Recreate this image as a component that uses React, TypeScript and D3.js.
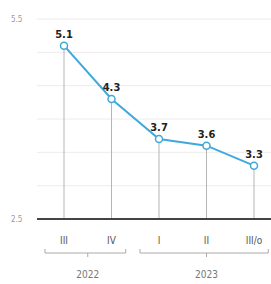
import React, { useEffect, useRef } from "react";
import * as d3 from "d3";

const quarters = ["III", "IV", "I", "II", "III/o"];
const values = [5.1, 4.3, 3.7, 3.6, 3.3];
const yearGroups = [
  { year: "2022", from: 0, to: 1 },
  { year: "2023", from: 2, to: 4 },
];
const yTicks = [2.5, 3, 3.5, 4, 4.5, 5, 5.5];
const yLabels = [2.5, 5.5];

export default function App() {
  const svgRef = useRef<SVGSVGElement>(null);

  useEffect(() => {
    const width = 271;
    const height = 284;
    const font = "'DejaVu Sans', sans-serif";

    const svg = d3.select(svgRef.current)
      .attr("width", width)
      .attr("height", height)
      .style("display", "block")
      .style("background", "#fff")
      .style("font-stretch", "condensed");
    svg.selectAll("*").remove();

    const x = d3.scalePoint<number>()
      .domain(d3.range(quarters.length))
      .range([64, 254]);
    const y = d3.scaleLinear().domain([2.5, 5.5]).range([219, 19]);

    // gridlines
    svg.append("g")
      .selectAll("line")
      .data(yTicks.slice(1))
      .join("line")
      .attr("x1", 37)
      .attr("x2", width)
      .attr("y1", d => y(d))
      .attr("y2", d => y(d))
      .attr("stroke", "#ececec")
      .attr("stroke-width", 1);

    // y labels
    svg.append("g")
      .selectAll("text")
      .data(yLabels)
      .join("text")
      .attr("x", 11)
      .attr("y", d => y(d) + 3)
      .attr("font-family", font)
      .attr("font-size", 8)
      .attr("fill", "#9a9a9a")
      .text(d => d.toFixed(1));

    // drop lines
    svg.append("g")
      .selectAll("line")
      .data(values)
      .join("line")
      .attr("x1", (d, i) => x(i)!)
      .attr("x2", (d, i) => x(i)!)
      .attr("y1", d => y(d))
      .attr("y2", y(2.5))
      .attr("stroke", "#b5b5b5")
      .attr("stroke-width", 1);

    // baseline
    svg.append("line")
      .attr("x1", 37)
      .attr("x2", width)
      .attr("y1", y(2.5))
      .attr("y2", y(2.5))
      .attr("stroke", "#444")
      .attr("stroke-width", 2);

    const line = d3.line<number>()
      .x((d, i) => x(i)!)
      .y(d => y(d));

    svg.append("path")
      .datum(values)
      .attr("fill", "none")
      .attr("stroke", "#3fa9dc")
      .attr("stroke-width", 2)
      .attr("d", line);

    svg.append("g")
      .selectAll("circle")
      .data(values)
      .join("circle")
      .attr("cx", (d, i) => x(i)!)
      .attr("cy", d => y(d))
      .attr("r", 3.5)
      .attr("fill", "#fff")
      .attr("stroke", "#3fa9dc")
      .attr("stroke-width", 1.5);

    // value labels
    svg.append("g")
      .selectAll("text")
      .data(values)
      .join("text")
      .attr("x", (d, i) => x(i)!)
      .attr("y", d => y(d) - 8)
      .attr("text-anchor", "middle")
      .attr("font-family", font)
      .attr("font-weight", "bold")
      .attr("font-size", 11)
      .attr("fill", "#222")
      .text(d => d.toFixed(1));

    // quarter labels
    svg.append("g")
      .selectAll("text")
      .data(quarters)
      .join("text")
      .attr("x", (d, i) => x(i)!)
      .attr("y", 244)
      .attr("text-anchor", "middle")
      .attr("font-family", font)
      .attr("font-size", 10)
      .attr("fill", "#555")
      .text(d => d);

    // year brackets
    const step = x.step();
    const brackets = svg.append("g")
      .attr("fill", "none")
      .attr("stroke", "#aaa")
      .attr("stroke-width", 1);
    yearGroups.forEach(g => {
      const x0 = x(g.from)! - step * 0.4;
      const x1 = Math.min(x(g.to)! + step * 0.3, width - 1);
      const xm = (x(g.from)! + x(g.to)!) / 2;
      brackets.append("path")
        .attr("d", `M${x0},249V253H${x1}V249M${xm},253V257`);
      svg.append("text")
        .attr("x", xm)
        .attr("y", 278)
        .attr("text-anchor", "middle")
        .attr("font-family", font)
        .attr("font-size", 10)
        .attr("fill", "#777")
        .text(g.year);
    });
  }, []);

  return <svg ref={svgRef} style={{ position: "absolute", left: 0, top: 0 }} />;
}
